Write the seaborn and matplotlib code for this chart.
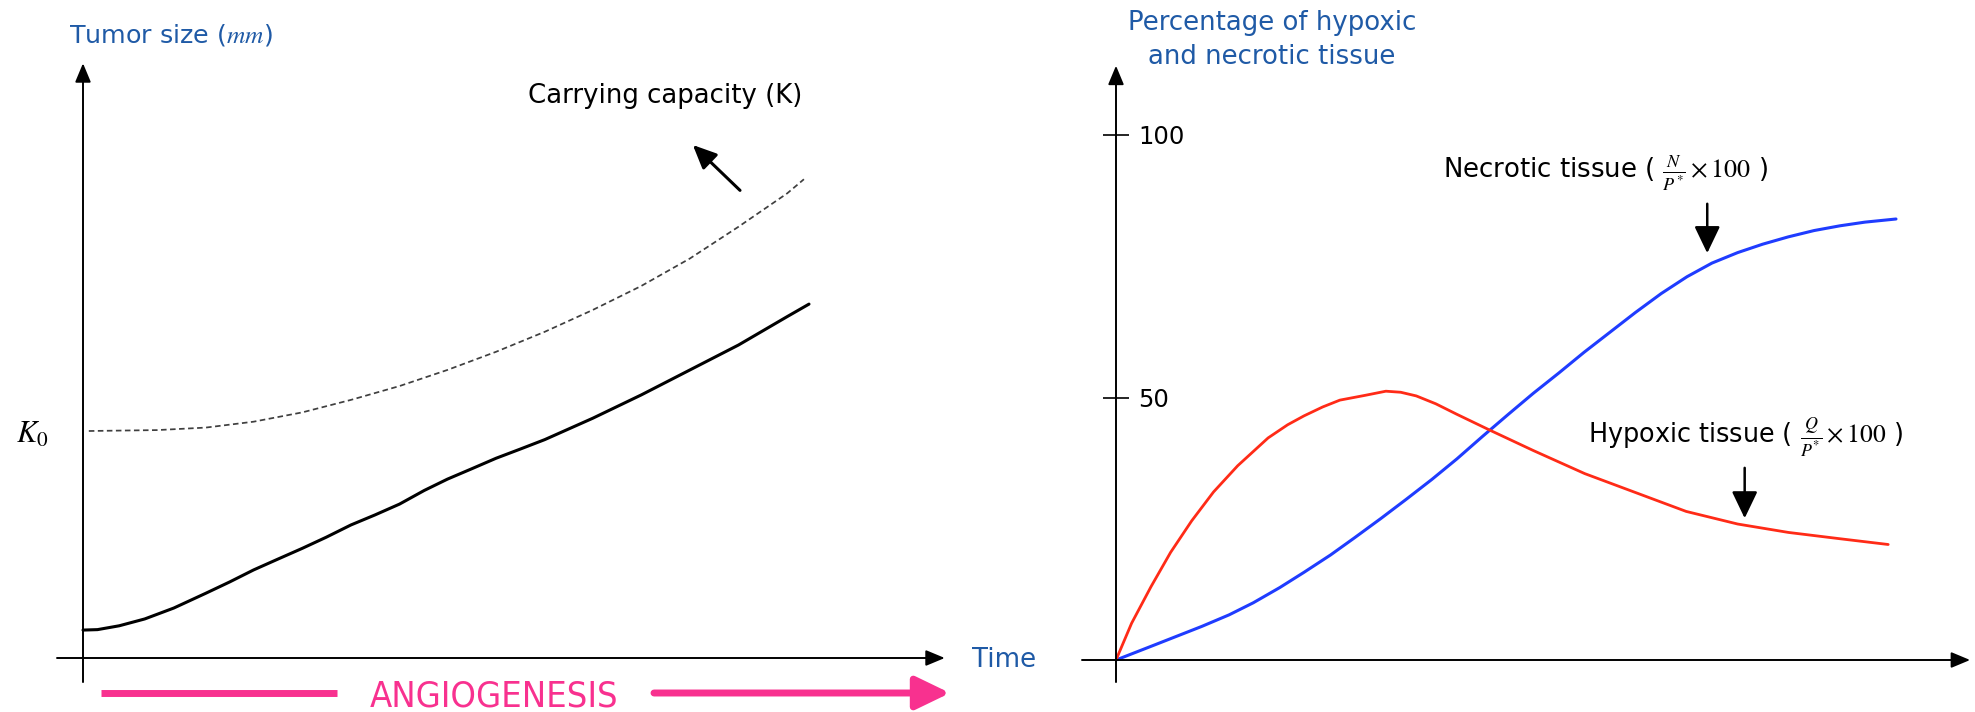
import matplotlib
matplotlib.use("Agg")
import matplotlib.pyplot as plt
import pandas as pd
import seaborn as sns
from matplotlib import font_manager

# ---------------- data ----------------
# Left panel: tumour size (arbitrary mm) over time (arbitrary units 0..100)
tumor_time = [0, 2.0, 5.0, 8.5, 12.5, 16.9, 20.2, 23.5, 26.8, 30.2, 33.5, 36.9,
              40.2, 43.6, 47.0, 50.2, 53.5, 56.9, 60.2, 63.6, 70.2, 76.9, 83.6,
              90.3, 97.0, 100]
tumor_size = [1.23, 1.25, 1.42, 1.72, 2.20, 2.85, 3.35, 3.88, 4.35, 4.83, 5.32,
              5.86, 6.30, 6.78, 7.38, 7.88, 8.33, 8.80, 9.20, 9.62, 10.56, 11.59,
              12.69, 13.79, 15.04, 15.59]
capacity_time = [0.8, 10.2, 16.9, 23.5, 30.2, 36.9, 43.6, 50.2, 56.9, 63.6,
                 70.2, 76.9, 83.6, 90.3, 97.0, 99.3]
capacity_size = [10.0, 10.04, 10.15, 10.41, 10.82, 11.37, 11.98, 12.69, 13.49,
                 14.37, 15.33, 16.39, 17.6, 19.0, 20.47, 21.09]
K0 = 10.0
K0_label = r"$K_0$"

# Right panel: percentage of necrotic / hypoxic tissue over time (0..100)
necrotic_time = [0, 5.0, 11.0, 14.5, 17.6, 21.0, 24.1, 27.5, 30.6, 34.0, 37.2,
                 40.5, 43.7, 47.0, 50.3, 53.5, 56.8, 60.0, 63.3, 66.6, 69.9,
                 73.2, 76.4, 79.7, 82.9, 86.2, 89.5, 92.8, 96.0, 100]
necrotic_pct = [0, 2.9, 6.4, 8.6, 10.9, 13.8, 16.7, 20.0, 23.3, 27.0, 30.6,
                34.4, 38.3, 42.6, 46.8, 50.8, 54.7, 58.6, 62.4, 66.2, 69.8,
                73.0, 75.6, 77.6, 79.2, 80.6, 81.8, 82.7, 83.4, 84.0]
hypoxic_time = [0, 2.0, 4.5, 7.0, 9.7, 12.5, 15.6, 19.5, 22.0, 24.1, 26.5, 28.7,
                31.9, 34.6, 36.5, 38.5, 41.0, 43.7, 47.9, 53.5, 60.1, 66.6, 73.1,
                79.7, 86.2, 92.8, 99.0]
hypoxic_pct = [0, 7.0, 14.0, 20.5, 26.5, 32.0, 37.0, 42.3, 44.8, 46.5, 48.2,
               49.5, 50.4, 51.2, 51.0, 50.3, 48.8, 46.8, 43.8, 39.9, 35.5, 31.9,
               28.3, 25.9, 24.3, 23.1, 22.0]
pct_ticks = [50, 100]
pct_ticklabels = ["50", "100"]

# ---------------- style ----------------
sns.set_theme(style="white")
plt.rcParams["font.family"] = ["DejaVu Sans"]
plt.rcParams["mathtext.fontset"] = "stix"

BLUE_TXT = "#1f5aa6"
RED = "#ff2b17"
BLUE = "#1f3cff"
PINK = "#f8318f"
FS = 18.7

W, H = 1975, 712
fig = plt.figure(figsize=(W / 100, H / 100), dpi=100)


def px_rect(x0, y0, x1, y1):
    return [x0 / W, 1 - y1 / H, (x1 - x0) / W, (y1 - y0) / H]


def fx(x):
    return x / W


def fy(y):
    return 1 - y / H


# left axes: origin at pixel (83, 658); 7.26 px per time unit, 22.7 px per mm
axL = fig.add_axes(px_rect(0, 0, 1000, 712))
axL.set_xlim((0 - 83) / 7.26, (1000 - 83) / 7.26)
axL.set_ylim((658 - 712) / 22.7, 658 / 22.7)

# right axes: origin at pixel (1116, 660); 7.8 px per time unit, 5.25 px per %
axR = fig.add_axes(px_rect(1000, 0, 1975, 712))
axR.set_xlim((1000 - 1116) / 7.8, (1975 - 1116) / 7.8)
axR.set_ylim((660 - 712) / 5.25, 660 / 5.25)

for ax in (axL, axR):
    ax.set_facecolor("none")
    for s in ax.spines.values():
        s.set_visible(False)
    ax.set_xticks([])
    ax.grid(False)

# ---------------- curves ----------------
df_tumor = pd.DataFrame({"t": tumor_time, "v": tumor_size})
df_cap = pd.DataFrame({"t": capacity_time, "v": capacity_size})
sns.lineplot(data=df_cap, x="t", y="v", ax=axL, color="#3f3f3f", linewidth=1.25,
             linestyle=(0, (3.2, 2.0)), sort=False, estimator=None)
sns.lineplot(data=df_tumor, x="t", y="v", ax=axL, color="black", linewidth=2.2,
             sort=False, estimator=None, solid_joinstyle="round")

df_nec = pd.DataFrame({"t": necrotic_time, "v": necrotic_pct})
df_hyp = pd.DataFrame({"t": hypoxic_time, "v": hypoxic_pct})
sns.lineplot(data=df_nec, x="t", y="v", ax=axR, color=BLUE, linewidth=2.2,
             sort=False, estimator=None, solid_joinstyle="round")
sns.lineplot(data=df_hyp, x="t", y="v", ax=axR, color=RED, linewidth=2.0,
             sort=False, estimator=None, solid_joinstyle="round")
for ax in (axL, axR):
    ax.set_xlabel("")
    ax.set_ylabel("")


# ---------------- axis arrows ----------------
def arrow(ax, start, end, lw, hl, hw, color="black", ms=10):
    ax.annotate("", xy=end, xytext=start,
                arrowprops=dict(arrowstyle=f"-|>,head_length={hl},head_width={hw}",
                                lw=lw, color=color, shrinkA=0, shrinkB=0,
                                mutation_scale=ms),
                annotation_clip=False)


# left axes lines
arrow(axL, (0, -1.06), (0, 26.2), 1.4, 1.15, 0.48)
arrow(axL, (-3.58, 0), (118.7, 0), 1.4, 1.15, 0.48)
# right axes lines
arrow(axR, (0, -4.2), (0, 113.2), 1.4, 1.15, 0.48)
arrow(axR, (-4.36, 0), (109.5, 0), 1.4, 1.15, 0.48)

# ---------------- ticks ----------------
axL.set_yticks([K0])
axL.set_yticklabels([K0_label])
axL.spines["left"].set_position(("data", 0))
axL.tick_params(axis="y", length=0, pad=25, labelsize=22, labelcolor="black")

axR.set_yticks(pct_ticks)
axR.set_yticklabels(pct_ticklabels)
axR.yaxis.set_ticks_position("right")
axR.spines["right"].set_position(("data", 0))
axR.tick_params(axis="y", which="both", direction="inout", length=18.7, width=1.2,
                pad=6.5, labelsize=17.5, color="black", labelcolor="black",
                left=False, right=True, labelleft=False, labelright=True)

# ---------------- texts ----------------
fig.text(fx(69), fy(35), r"Tumor size ($mm$)", color=BLUE_TXT, fontsize=18.3,
         ha="left", va="center")
fig.text(fx(1272), fy(40), "Percentage of hypoxic\nand necrotic tissue",
         color=BLUE_TXT, fontsize=FS, ha="center", va="center",
         multialignment="center", linespacing=1.45)
fig.text(fx(972), fy(660), "Time", color=BLUE_TXT, fontsize=FS, ha="left",
         va="center")
fig.text(fx(665), fy(96), "Carrying capacity (K)", color="black", fontsize=FS,
         ha="center", va="center")
arrow(axL, (90.5, 20.6), (84.0, 22.6), 2.2, 1.44, 0.65)

fig.text(fx(1443), fy(173), r"Necrotic tissue ( $\frac{N}{P^{*}}\times 100$ )",
         color="black", fontsize=FS, ha="left", va="center")
arrow(axR, (75.8, 86.9), (75.8, 77.5), 1.8, 1.65, 0.79)
fig.text(fx(1588), fy(437), r"Hypoxic tissue ( $\frac{Q}{P^{*}}\times 100$ )",
         color="black", fontsize=18.4, ha="left", va="center")
arrow(axR, (80.6, 36.6), (80.6, 27.0), 1.8, 1.65, 0.79)

# ANGIOGENESIS band (condensed face when available)
ang_family, ang_size, ang_stretch = "Liberation Sans", 24.0, "normal"
try:
    path = font_manager.findfont(
        font_manager.FontProperties(family="DejaVu Sans", stretch="condensed"),
        fallback_to_default=False)
    if "condensed" in path.lower():
        ang_family, ang_size, ang_stretch = "DejaVu Sans", 26, "condensed"
except Exception:
    pass
y_ang = (658 - 693) / 22.7
axL.plot([(101 - 83) / 7.26, (337 - 83) / 7.26], [y_ang, y_ang], color=PINK,
         lw=5.0, solid_capstyle="butt")
axL.text((494 - 83) / 7.26, y_ang, "ANGIOGENESIS", color=PINK, fontsize=ang_size,
         family=ang_family, fontstretch=ang_stretch, ha="center",
         va="center_baseline")
arrow(axL, ((654 - 83) / 7.26, y_ang), ((950 - 83) / 7.26, y_ang), 5.0, 2.07, 1.0,
      color=PINK)

fig.savefig("out.png", dpi=100)
